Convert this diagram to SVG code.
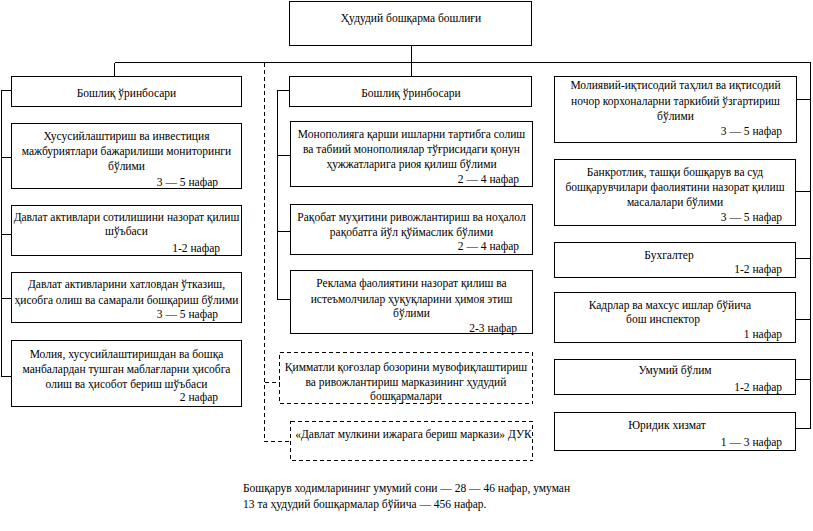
<svg xmlns="http://www.w3.org/2000/svg" width="813" height="531" viewBox="0 0 813 531">
<style>
  .box { fill: #fff; stroke: #000; stroke-width: 1; shape-rendering: crispEdges; }
  .dbox { fill: #fff; stroke: #000; stroke-width: 1; stroke-dasharray: 4 3; shape-rendering: crispEdges; }
  .ln { fill: none; stroke: #000; stroke-width: 1; shape-rendering: crispEdges; }
  .dln { fill: none; stroke: #000; stroke-width: 1; stroke-dasharray: 4 3; shape-rendering: crispEdges; }
  text { font-family: "Liberation Serif", "Times New Roman", serif; font-size: 11.5px; fill: #000; }
  .c { text-anchor: middle; }
  .r { text-anchor: end; }
</style>
<rect width="813" height="531" fill="#fff"/>
<g id="connectors">
  <path class="ln" d="M411.5 45.5 V76.5 M114.5 62.5 H810.5 V428.5 M114.5 62.5 V76.5"/>
  <path class="ln" d="M11.5 90.5 H1.5 V376.5 M1.5 157.5 H11.5 M1.5 234.5 H11.5 M1.5 298.5 H11.5 M1.5 376.5 H11.5"/>
  <path class="ln" d="M289.5 90.5 H277.5 V299.5 H290.5 M277.5 155.5 H290.5 M277.5 231.5 H290.5"/>
  <path class="ln" d="M796.5 99.5 H810.5 M795.5 191.5 H810.5 M795.5 258.5 H810.5 M795.5 319.5 H810.5 M795.5 379.5 H810.5 M795.5 428.5 H810.5"/>
  <path class="dln" d="M264.5 62.5 V441.5 H290.5 M264.5 382.5 H279.5"/>
</g>
<g id="head">
  <rect class="box" x="289.5" y="1.5" width="242" height="44"/>
  <text class="c" x="411" y="22">Ҳудудий бошқарма бошлиғи</text>
</g>
<g id="dep1">
  <rect class="box" x="11.5" y="76.5" width="230" height="30"/>
  <text class="c" x="126.5" y="97">Бошлиқ ўринбосари</text>
</g>
<g id="l1">
  <rect class="box" x="11.5" y="123.5" width="230" height="65"/>
  <text class="c" x="126.5" y="140">Хусусийлаштириш ва инвестиция</text>
  <text class="c" x="126.5" y="155">мажбуриятлари бажарилиши мониторинги</text>
  <text class="c" x="126.5" y="170">бўлими</text>
  <text class="r" x="218" y="186">3 — 5 нафар</text>
</g>
<g id="l2">
  <rect class="box" x="11.5" y="205.5" width="230" height="50"/>
  <text class="c" x="126.5" y="221">Давлат активлари сотилишини назорат қилиш</text>
  <text class="c" x="126.5" y="235">шўъбаси</text>
  <text class="r" x="220" y="252">1-2 нафар</text>
</g>
<g id="l3">
  <rect class="box" x="11.5" y="272.5" width="230" height="50"/>
  <text class="c" x="126.5" y="288">Давлат активларини хатловдан ўтказиш,</text>
  <text class="c" x="126.5" y="304">ҳисобга олиш ва самарали бошқариш бўлими</text>
  <text class="r" x="218" y="318">3 — 5 нафар</text>
</g>
<g id="l4">
  <rect class="box" x="11.5" y="340.5" width="230" height="66"/>
  <text class="c" x="126.5" y="358">Молия, хусусийлаштиришдан ва бошқа</text>
  <text class="c" x="126.5" y="373">манбалардан тушган маблағларни ҳисобга</text>
  <text class="c" x="126.5" y="388">олиш ва ҳисобот бериш шўъбаси</text>
  <text class="r" x="218" y="401">2 нафар</text>
</g>
<g id="dep2">
  <rect class="box" x="289.5" y="76.5" width="242" height="30"/>
  <text class="c" x="411" y="97">Бошлиқ ўринбосари</text>
</g>
<g id="m1">
  <rect class="box" x="290.5" y="121.5" width="242" height="65"/>
  <text class="c" x="411.5" y="138">Монополияга қарши ишларни тартибга солиш</text>
  <text class="c" x="411.5" y="153">ва табиий монополиялар тўғрисидаги қонун</text>
  <text class="c" x="411.5" y="168">ҳужжатларига риоя қилиш  бўлими</text>
  <text class="r" x="519" y="183">2 — 4 нафар</text>
</g>
<g id="m2">
  <rect class="box" x="290.5" y="204.5" width="242" height="50"/>
  <text class="c" x="411.5" y="221">Рақобат муҳитини ривожлантириш ва ноҳалол</text>
  <text class="c" x="411.5" y="236">рақобатга йўл қўймаслик бўлими</text>
  <text class="r" x="519" y="250">2 — 4 нафар</text>
</g>
<g id="m3">
  <rect class="box" x="290.5" y="270.5" width="242" height="63"/>
  <text class="c" x="411.5" y="287">Реклама фаолиятини назорат қилиш ва</text>
  <text class="c" x="411.5" y="303">истеъмолчилар ҳуқуқларини ҳимоя этиш</text>
  <text class="c" x="411.5" y="317">бўлими</text>
  <text class="r" x="517" y="332">2-3 нафар</text>
</g>
<g id="m4">
  <rect class="dbox" x="279.5" y="352.5" width="253" height="51"/>
  <text class="c" x="406" y="371">Қимматли қоғозлар бозорини мувофиқлаштириш</text>
  <text class="c" x="406" y="386">ва ривожлантириш марказининг ҳудудий</text>
  <text class="c" x="406" y="400">бошқармалари</text>
</g>
<g id="m5">
  <rect class="dbox" x="290.5" y="421.5" width="242" height="39"/>
  <text class="c" x="413.5" y="438">«Давлат мулкини ижарага бериш маркази» ДУК</text>
</g>
<g id="r1">
  <rect class="box" x="554.5" y="76.5" width="242" height="66"/>
  <text class="c" x="675.5" y="89">Молиявий-иқтисодий таҳлил ва иқтисодий</text>
  <text class="c" x="675.5" y="105">ночор корхоналарни таркибий ўзгартириш</text>
  <text class="c" x="675.5" y="120">бўлими</text>
  <text class="r" x="782" y="135">3 — 5 нафар</text>
</g>
<g id="r2">
  <rect class="box" x="554.5" y="159.5" width="241" height="66"/>
  <text class="c" x="675" y="176">Банкротлик, ташқи бошқарув ва суд</text>
  <text class="c" x="675" y="191">бошқарувчилари фаолиятини назорат қилиш</text>
  <text class="c" x="675" y="206">масалалари бўлими</text>
  <text class="r" x="782" y="221">3 — 5 нафар</text>
</g>
<g id="r3">
  <rect class="box" x="554.5" y="242.5" width="241" height="35"/>
  <text class="c" x="669" y="259">Бухгалтер</text>
  <text class="r" x="782" y="273">1-2 нафар</text>
</g>
<g id="r4">
  <rect class="box" x="554.5" y="292.5" width="241" height="50"/>
  <text class="c" x="670" y="309">Кадрлар ва махсус ишлар бўйича</text>
  <text class="c" x="663" y="323">бош инспектор</text>
  <text class="r" x="782" y="338">1 нафар</text>
</g>
<g id="r5">
  <rect class="box" x="554.5" y="359.5" width="241" height="35"/>
  <text class="c" x="675" y="374">Умумий бўлим</text>
  <text class="r" x="782" y="391">1-2 нафар</text>
</g>
<g id="r6">
  <rect class="box" x="554.5" y="412.5" width="241" height="38"/>
  <text class="c" x="667" y="429">Юридик хизмат</text>
  <text class="r" x="782" y="446">1 — 3 нафар</text>
</g>
<g id="footer">
  <text x="243" y="492">Бошқарув ходимларининг умумий сони — 28 — 46 нафар, умуман</text>
  <text x="243" y="508">13 та ҳудудий бошқармалар бўйича — 456 нафар.</text>
</g>
</svg>
